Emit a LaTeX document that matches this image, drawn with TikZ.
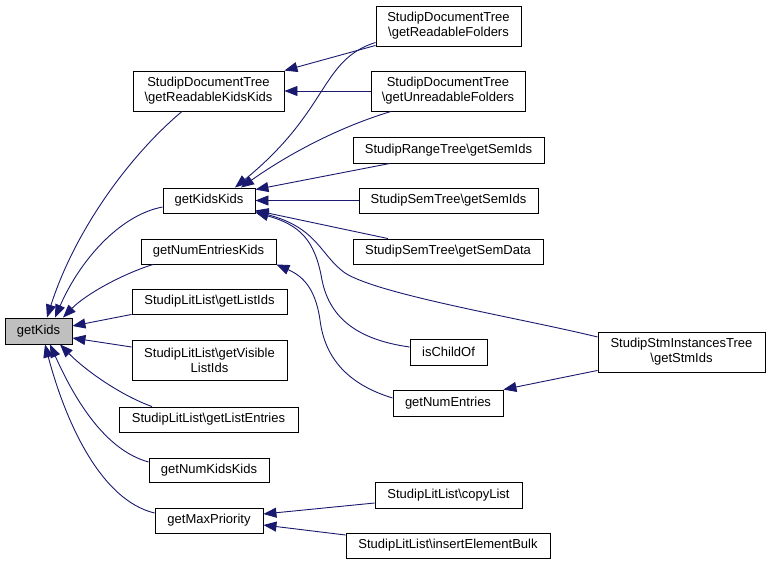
\documentclass[tikz,border=0pt]{standalone}
\usepackage{fontspec}
\setmainfont{Liberation Sans}
\usetikzlibrary{arrows.meta}
\definecolor{navy}{HTML}{191970}
\definecolor{boxgray}{HTML}{BFBFBF}
\tikzset{
  fbox/.style={draw=black, line width=0.9pt, fill=white, inner sep=0pt, align=center,
    font=\fontsize{13}{15}\selectfont},
  edge/.style={draw=navy, line width=0.9pt, -{Triangle[length=13pt,width=10pt]}, fill=none},
}
\newcommand{\bs}{\textbackslash}
\begin{document}
\begin{tikzpicture}[x=1pt,y=-1pt]
\useasboundingbox (0,0) rectangle (771,565);
\fill[white] (0,0) rectangle (771,565);
% nodes
\node[fbox, fill=boxgray, minimum width=67, minimum height=26] (gk) at (38.5,331) {getKids};
\node[fbox, minimum width=151, minimum height=40] (grkk) at (208.5,91) {StudipDocumentTree\\\bs getReadableKidsKids};
\node[fbox, minimum width=92, minimum height=25] (gkk) at (209,200.5) {getKidsKids};
\node[fbox, minimum width=135, minimum height=25] (gnek) at (208.5,251.5) {getNumEntriesKids};
\node[fbox, minimum width=155, minimum height=25] (gli) at (209.5,301.5) {StudipLitList\bs getListIds};
\node[fbox, minimum width=155, minimum height=40] (gvli) at (209.5,360) {StudipLitList\bs getVisible\\ListIds};
\node[fbox, minimum width=179, minimum height=25] (gle) at (208.5,419.5) {StudipLitList\bs getListEntries};
\node[fbox, minimum width=120, minimum height=24] (gnkk) at (209,470) {getNumKidsKids};
\node[fbox, minimum width=108, minimum height=25] (gmp) at (209,520.5) {getMaxPriority};
\node[fbox, minimum width=145, minimum height=40] (grf) at (448.5,26) {StudipDocumentTree\\\bs getReadableFolders};
\node[fbox, minimum width=154, minimum height=40] (guf) at (448,91) {StudipDocumentTree\\\bs getUnreadableFolders};
\node[fbox, minimum width=191, minimum height=26] (rts) at (448.5,150) {StudipRangeTree\bs getSemIds};
\node[fbox, minimum width=179, minimum height=25] (sts) at (448.5,200.5) {StudipSemTree\bs getSemIds};
\node[fbox, minimum width=190, minimum height=25] (ssd) at (448,251.5) {StudipSemTree\bs getSemData};
\node[fbox, minimum width=77, minimum height=26] (ico) at (448.5,352) {isChildOf};
\node[fbox, minimum width=110, minimum height=26] (gne) at (448,403) {getNumEntries};
\node[fbox, minimum width=167, minimum height=40] (stm) at (681.5,352) {StudipStmInstancesTree\\\bs getStmIds};
\node[fbox, minimum width=147, minimum height=26] (cl) at (448.5,495) {StudipLitList\bs copyList};
\node[fbox, minimum width=204, minimum height=25] (ieb) at (448,545.5) {StudipLitList\bs insertElementBulk};
% edges into getKids
\draw[edge] ([xshift=-26.5]grkk.south) .. controls (130,155) and (75,230) .. ([xshift=8.5]gk.north);
\draw[edge] ([yshift=-6.5]gkk.west) .. controls (120,215) and (80,260) .. ([xshift=16.5]gk.north);
\draw[edge] ([xshift=-55.5]gnek.south) .. controls (120,275) and (85,295) .. ([xshift=24.5]gk.north);
\draw[edge] (gli.south west) -- ([yshift=5]gk.east);
\draw[edge] ([yshift=13]gvli.west) -- ([yshift=-7]gk.east);
\draw[edge] ([xshift=-56.5]gle.north) .. controls (120,395) and (85,370) .. ([xshift=21.5]gk.south);
\draw[edge] ([yshift=8]gnkk.west) .. controls (105,450) and (75,400) .. ([xshift=11.5]gk.south);
\draw[edge] ([yshift=7.5]gmp.west) .. controls (100,500) and (65,420) .. ([xshift=6.5]gk.south);
% into getReadableKidsKids
\draw[edge] ([yshift=1]grf.south west) -- (grkk.north east);
\draw[edge] (guf.west) -- (grkk.east);
% into getKidsKids
\draw[edge] ([yshift=4]grf.south west) .. controls (320,60) and (330,110) .. ([xshift=26]gkk.north);
\draw[edge] ([xshift=-57]guf.south) .. controls (330,130) and (280,160) .. ([xshift=32]gkk.north);
\draw[edge] ([xshift=-58.5]rts.south) -- ([yshift=-2]gkk.north east);
\draw[edge] (sts.west) -- (gkk.east);
\draw[edge] ([xshift=-60]ssd.north) -- ([yshift=3]gkk.south east);
\draw[edge] ([yshift=15]stm.west) .. controls (520,318) and (380,295) .. (345,273) .. controls (320,255) and (318,228) .. ([yshift=2]gkk.south east);
\draw[edge] ([yshift=5]ico.west) .. controls (360,340) and (330,320) .. (322,280) .. controls (315,240) and (300,225) .. ([yshift=1]gkk.south east);
% into getNumEntriesKids
\draw[edge] ([yshift=5]gne.west) .. controls (350,385) and (325,360) .. (320,320) .. controls (315,285) and (300,275) .. (gnek.south east);
% into getNumEntries
\draw[edge] ([yshift=2]stm.south west) -- (gne.north east);
% into getMaxPriority
\draw[edge] ([yshift=-8]cl.west) -- ([yshift=6.5]gmp.east);
\draw[edge] ([yshift=10.5]ieb.west) -- ([yshift=-4.5]gmp.east);
\end{tikzpicture}
\end{document}
